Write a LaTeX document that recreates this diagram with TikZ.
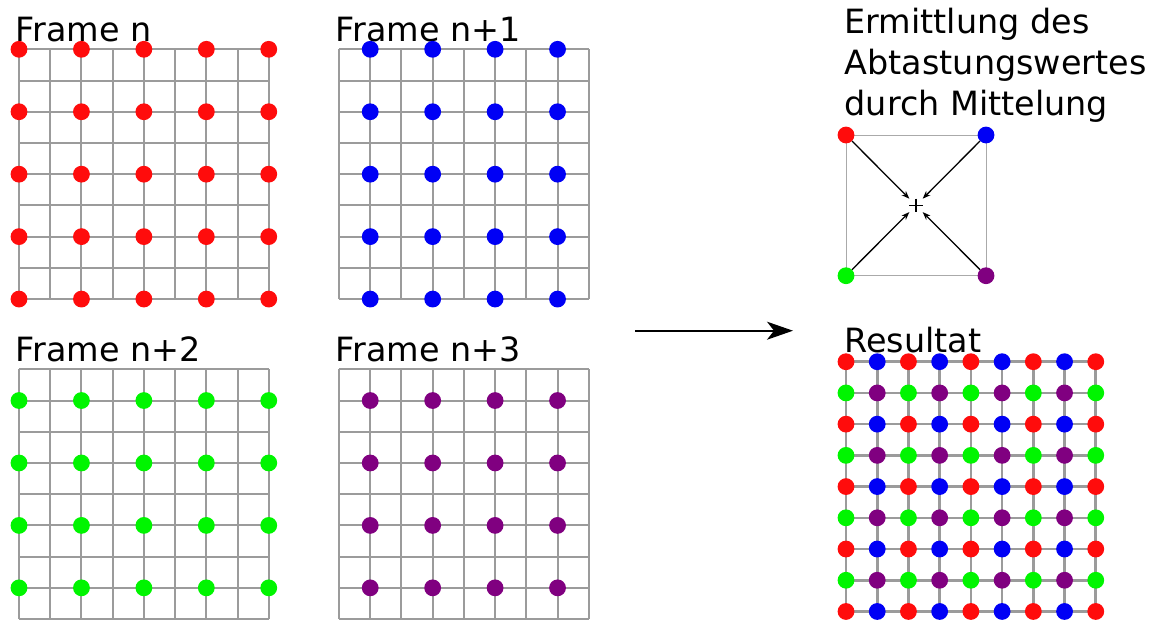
\documentclass[tikz,border=0pt]{standalone}
\usepackage{fontspec}
\setmainfont{DejaVu Sans}
\usetikzlibrary{arrows.meta}

\definecolor{dotred}{RGB}{255,12,12}
\definecolor{dotblue}{RGB}{0,0,245}
\definecolor{dotgreen}{RGB}{0,245,0}
\definecolor{dotpurple}{RGB}{128,0,128}
\definecolor{gridgray}{RGB}{155,155,155}

\tikzset{
  gridline/.style={draw=gridgray, line width=2pt},
  resgrid/.style={draw=gridgray, line width=2.6pt},
  dot/.style={circle, minimum size=16.8pt, inner sep=0pt, draw=none},
  rdot/.style={dot, fill=dotred},
  bdot/.style={dot, fill=dotblue},
  gdot/.style={dot, fill=dotgreen},
  pdot/.style={dot, fill=dotpurple},
  caption/.style={font=\fontsize{33.4}{41}\selectfont, inner sep=0pt, anchor=base west},
  avgarrow/.style={draw=black, line width=1.3pt, -{Stealth[length=8pt,width=6pt]}},
  bigarrow/.style={draw=black, line width=1.6pt, -{Stealth[length=26pt,width=18pt,inset=7pt]}},
}

% cell size of the sampling grids
\newcommand\cs{31.22}

% 8x8 cell grid with its upper left corner at (#1,#2)
\newcommand\cellgrid[3]{%
  \foreach \k in {0,...,8} {
    \draw[#3] ({#1+\k*\cs},#2) -- ({#1+\k*\cs},{#2+8*\cs});
    \draw[#3] (#1,{#2+\k*\cs}) -- ({#1+8*\cs},{#2+\k*\cs});
  }%
}

\begin{document}
\begin{tikzpicture}[x=1pt,y=-1pt]
  \useasboundingbox (0,0) rectangle (1153,619);

  % ---- four sampling frames ----
  \cellgrid{19}{49.3}{gridline}
  \cellgrid{339}{49.3}{gridline}
  \cellgrid{19}{369.3}{gridline}
  \cellgrid{339}{369.3}{gridline}

  \node[caption] (tn)  at (15.5,41.7)  {Frame n};
  \node[caption] (tn1) at (335.5,41.7) {Frame n+1};
  \node[caption] (tn2) at (15.5,361.7) {Frame n+2};
  \node[caption] (tn3) at (335.5,361.7) {Frame n+3};

  % frame n: red samples on even lines
  \foreach \i in {0,...,4}
    \foreach \j in {0,...,4}
      \node[rdot] (fr-\i-\j) at ({19+2*\i*\cs},{49.3+2*\j*\cs}) {};
  % frame n+1: blue samples shifted right by one cell
  \foreach \i in {0,...,3}
    \foreach \j in {0,...,4}
      \node[bdot] (fb-\i-\j) at ({339+(2*\i+1)*\cs},{49.3+2*\j*\cs}) {};
  % frame n+2: green samples shifted down by one cell
  \foreach \i in {0,...,4}
    \foreach \j in {0,...,3}
      \node[gdot] (fg-\i-\j) at ({19+2*\i*\cs},{369.3+(2*\j+1)*\cs}) {};
  % frame n+3: purple samples shifted right and down
  \foreach \i in {0,...,3}
    \foreach \j in {0,...,3}
      \node[pdot] (fp-\i-\j) at ({339+(2*\i+1)*\cs},{369.3+(2*\j+1)*\cs}) {};

  % ---- transition arrow ----
  \coordinate (arrowstart) at (635,330.7);
  \coordinate (arrowend) at (793,330.7);
  \draw[bigarrow] (arrowstart) -- (arrowend);

  % ---- averaging of the four samples ----
  \node[caption, anchor=north west, align=left] (tavg) at (844.5,7.9)
    {Ermittlung des\\Abtastungswertes\\durch Mittelung};
  \draw[draw=gridgray!85, line width=1pt] (846,135) rectangle (986,275.7);
  \node[rdot] (ar) at (846,135) {};
  \node[bdot] (ab) at (986,135) {};
  \node[gdot] (ag) at (846,275.7) {};
  \node[pdot] (ap) at (986,275.7) {};
  \node[inner sep=0pt, minimum size=13pt] (mid) at (916,205.4) {};
  \draw[line width=1.4pt] (mid.north) -- (mid.south) (mid.west) -- (mid.east);
  \draw[avgarrow] (ar) -- (mid);
  \draw[avgarrow] (ab) -- (mid);
  \draw[avgarrow] (ag) -- (mid);
  \draw[avgarrow] (ap) -- (mid);

  % ---- combined result ----
  \node[caption] (tres) at (844.5,352.3) {Resultat};
  \cellgrid{846}{361.7}{resgrid}
  \foreach \i in {0,...,8}
    \foreach \j in {0,...,8} {
      \pgfmathtruncatemacro\px{mod(\i,2)}
      \pgfmathtruncatemacro\py{mod(\j,2)}
      \ifnum\py=0
        \ifnum\px=0 \def\dc{rdot}\else\def\dc{bdot}\fi
      \else
        \ifnum\px=0 \def\dc{gdot}\else\def\dc{pdot}\fi
      \fi
      \node[\dc] (res-\i-\j) at ({846+\i*\cs},{361.7+\j*\cs}) {};
    }
\end{tikzpicture}
\end{document}
